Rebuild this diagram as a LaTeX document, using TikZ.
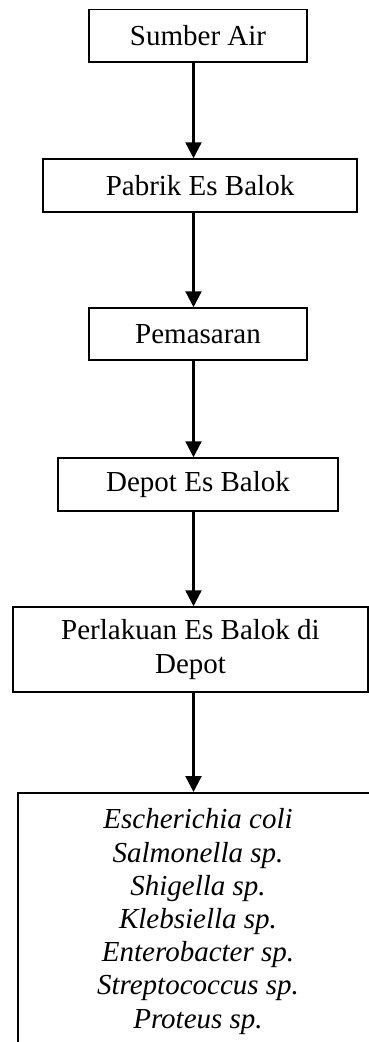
\documentclass[tikz,border=0pt]{standalone}
\usepackage{fontspec}
\setmainfont{Liberation Serif}
\usetikzlibrary{arrows.meta}
\begin{document}
\begin{tikzpicture}[x=1pt,y=-1pt,
  box/.style={draw,line width=1.5pt,rectangle,inner sep=0pt,align=center,
    font=\fontsize{29}{33.2}\selectfont},
  flow/.style={line width=2.3pt,-{Triangle[width=16pt,length=16pt]}}]
\useasboundingbox (0,0) rectangle (369,1042);
\clip (0,0) rectangle (369,1042);
\coordinate (ax) at (193.5,0);
\node[box,minimum width=218pt,minimum height=52.5pt] (b1) at (198,35.75) {Sumber Air};
\node[box,minimum width=314pt,minimum height=53pt] (b2) at (200,185.5) {Pabrik Es Balok};
\node[box,minimum width=218pt,minimum height=52pt] (b3) at (198,334) {Pemasaran};
\node[box,minimum width=280pt,minimum height=53pt] (b4) at (198,484.5) {Depot Es Balok};
\node[box,minimum width=355pt,minimum height=85pt] (b5) at (190.5,649.5) {Perlakuan Es Balok di\\Depot};
\node[box,anchor=north,minimum width=360pt,inner ysep=16pt,font=\fontsize{29}{33.2}\selectfont\itshape] (b6) at (198,792)
  {Escherichia coli\\Salmonella sp.\\Shigella sp.\\Klebsiella sp.\\Enterobacter sp.\\Streptococcus sp.\\Proteus sp.};
\draw[flow] (b1.south -| ax) -- (b2.north -| ax);
\draw[flow] (b2.south -| ax) -- (b3.north -| ax);
\draw[flow] (b3.south -| ax) -- (b4.north -| ax);
\draw[flow] (b4.south -| ax) -- (b5.north -| ax);
\draw[flow] (b5.south -| ax) -- (b6.north -| ax);
\end{tikzpicture}
\end{document}
